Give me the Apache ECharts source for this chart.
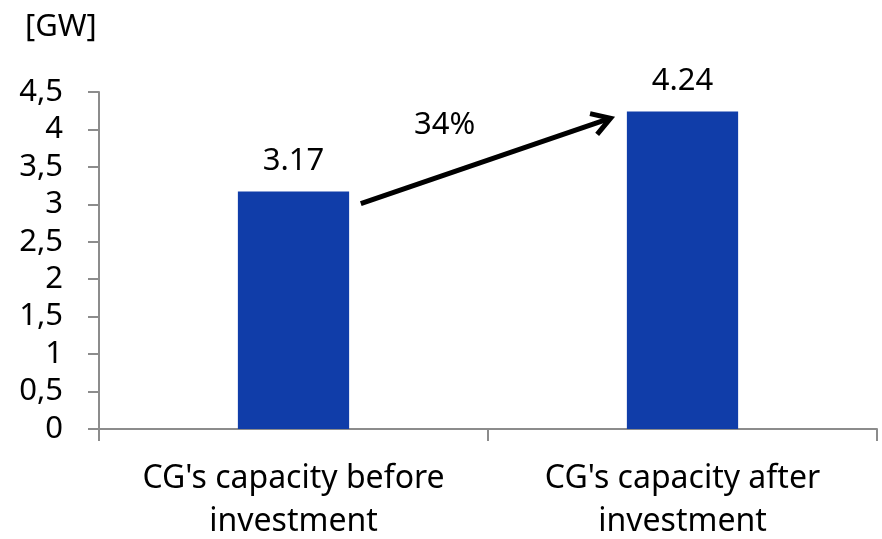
<!DOCTYPE html>
<html>
<head>
<meta charset="utf-8">
<script src="https://cdn.jsdelivr.net/npm/echarts@6/dist/echarts.min.js"></script>
<style>
  html, body { margin: 0; padding: 0; background: #fff; }
  #chart { width: 882px; height: 539px; }
</style>
</head>
<body>
<div id="chart"></div>
<script>
// Capacity of CG before and after the investment, in GW
const categories = ["CG's capacity before\ninvestment", "CG's capacity after\ninvestment"];
const capacity = [3.17, 4.24];
const growthLabel = '34%';
// Arrow endpoints in data space: [category position, GW]
const arrowFrom = [0.173, 3.01];
const arrowTo = [0.815, 4.15];

const FONT = 'Noto Sans';
const AXIS_GREY = '#8c8c8c';

const chart = echarts.init(document.getElementById('chart'));

chart.setOption({
  animation: false,
  textStyle: { fontFamily: FONT },
  grid: { left: 99, right: 5, top: 92, bottom: 110, containLabel: false, outerBoundsMode: 'none' },
  title: {
    text: '[GW]', left: 20, top: 7,
    textStyle: { fontFamily: FONT, fontSize: 31, fontWeight: 'normal', color: '#000' }
  },
  xAxis: [{
    type: 'category',
    data: categories,
    axisLine: { lineStyle: { color: AXIS_GREY, width: 2 } },
    axisTick: { show: true, length: 12, alignWithLabel: false, lineStyle: { color: AXIS_GREY, width: 2 } },
    axisLabel: { color: '#000', fontSize: 32, lineHeight: 43, margin: 28, interval: 0 }
  }, {
    type: 'value', min: -0.5, max: 1.5, show: false
  }],
  yAxis: {
    type: 'value', min: 0, max: 4.5, interval: 0.5,
    splitLine: { show: false },
    axisLine: { show: true, onZero: false, lineStyle: { color: AXIS_GREY, width: 2 } },
    axisTick: { show: true, length: 11, lineStyle: { color: AXIS_GREY, width: 2 } },
    axisLabel: {
      color: '#000', fontSize: 31, margin: 36,
      formatter: v => String(v).replace('.', ',')
    }
  },
  series: [{
    type: 'bar',
    data: capacity,
    barWidth: '28.6%',
    itemStyle: { color: '#103DA9' },
    label: {
      show: true, position: 'top', distance: 15,
      color: '#000', fontSize: 31,
      formatter: p => p.value.toFixed(2)
    }
  }, {
    type: 'custom',
    xAxisIndex: 1,
    data: [[arrowFrom[0], arrowFrom[1], arrowTo[0], arrowTo[1]]],
    renderItem: function (params, api) {
      const a = api.coord([api.value(0), api.value(1)]);
      const b = api.coord([api.value(2), api.value(3)]);
      const ang = Math.atan2(b[1] - a[1], b[0] - a[0]);
      const head = 21, spread = 0.55;
      const h1 = [b[0] - head * Math.cos(ang - spread), b[1] - head * Math.sin(ang - spread)];
      const h2 = [b[0] - head * Math.cos(ang + spread), b[1] - head * Math.sin(ang + spread)];
      const style = { stroke: '#000', lineWidth: 5, fill: null, lineCap: 'butt', lineJoin: 'miter' };
      return {
        type: 'group',
        children: [
          { type: 'line', shape: { x1: a[0], y1: a[1], x2: b[0] - 3 * Math.cos(ang), y2: b[1] - 3 * Math.sin(ang) }, style: style },
          { type: 'polyline', shape: { points: [h1, b, h2] }, style: style },
          {
            type: 'text',
            style: {
              text: growthLabel, x: (a[0] + b[0]) / 2 - 41, y: (a[1] + b[1]) / 2 - 36,
              align: 'center', verticalAlign: 'middle',
              fill: '#000', font: '31px ' + FONT
            }
          }
        ]
      };
    }
  }]
});
</script>
</body>
</html>
